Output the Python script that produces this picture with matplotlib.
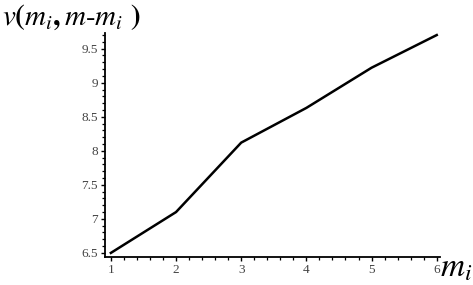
import matplotlib
matplotlib.use("Agg")
import matplotlib.pyplot as plt
from matplotlib.ticker import MultipleLocator

plt.rcParams['mathtext.fontset'] = 'stix'
plt.rcParams['font.family'] = 'Liberation Serif'

mi = [1, 2, 3, 4, 5, 6]
v = [6.5, 7.1, 8.12, 8.63, 9.22, 9.7]
xticks = [1, 2, 3, 4, 5, 6]
yticks = [6.5, 7, 7.5, 8, 8.5, 9, 9.5]
ytick_labels = ['6.5', '7', '7.5', '8', '8.5', '9', '9.5']

fig = plt.figure(figsize=(4.73, 2.85), dpi=100)
ax = fig.add_axes([105/473, 1-257/285, (440-105)/473, (257-33)/285])
ax.plot(mi, v, color='black', lw=1.8)
ax.set_xlim(0.91, 6.05)
ax.set_ylim(6.44, 9.73)
for s in ['top', 'right']:
    ax.spines[s].set_visible(False)
for s in ['left', 'bottom']:
    ax.spines[s].set_linewidth(1.3)
ax.set_xticks(xticks)
ax.set_xticklabels([str(t) for t in xticks])
ax.set_yticks(yticks)
ax.set_yticklabels(ytick_labels)
ax.xaxis.set_minor_locator(MultipleLocator(0.2))
ax.yaxis.set_minor_locator(MultipleLocator(0.1))
ax.tick_params(which='major', length=3, width=1.0, labelsize=9.5, labelcolor='#444444', pad=2)
ax.tick_params(which='minor', length=2, width=0.9)

fig.text(2/473, 1-17/285, r'$\mathbf{\mathit{v}(\mathit{m}_{\mathit{i}},\mathit{m}\text{-}\mathit{m}_{\mathit{i}}\ )}$',
         fontsize=21, va='center', ha='left')
fig.text(440/473, 1-268/285, r'$\mathbf{\mathit{m}_{\mathit{i}}}$', fontsize=24, va='center', ha='left')

fig.savefig('out.png', dpi=100)
